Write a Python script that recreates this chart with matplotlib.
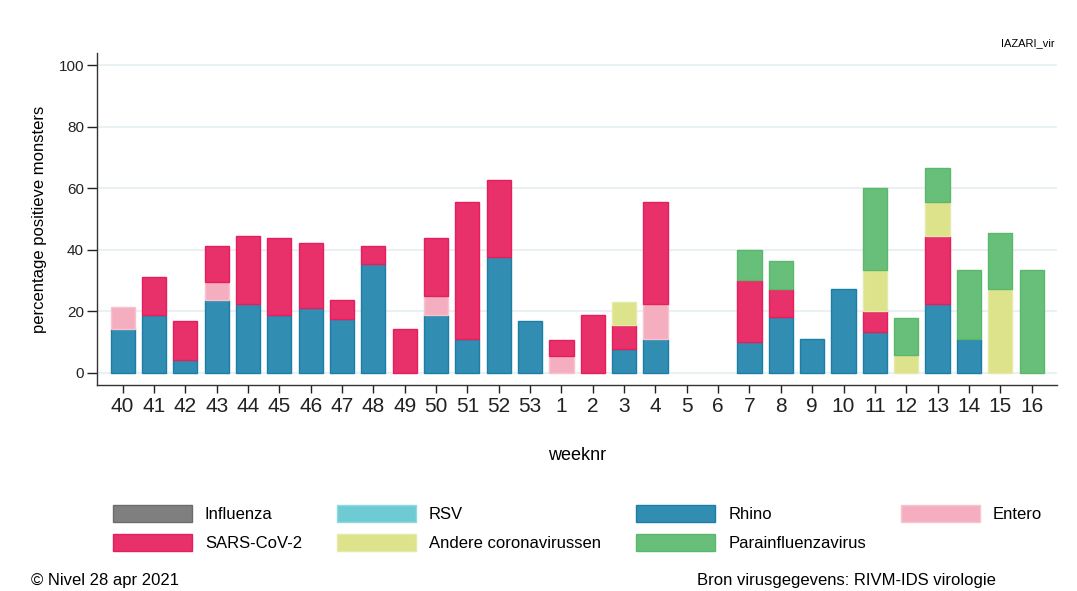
import numpy as np
import matplotlib.pyplot as plt
from matplotlib.patches import Patch

plt.rcParams['font.family'] = ['Liberation Sans', 'DejaVu Sans']

# weeks (season 2020/2021) and percentage positive samples per virus
weeks = [40, 41, 42, 43, 44, 45, 46, 47, 48, 49, 50, 51, 52, 53,
         1, 2, 3, 4, 5, 6, 7, 8, 9, 10, 11, 12, 13, 14, 15, 16]
influenza = [0] * 30
rsv = [0] * 30
rhino = [14.3, 18.75, 4.2, 23.5, 22.2, 18.75, 21.05, 17.6, 35.3, 0, 18.75, 11.1, 37.5, 16.7,
         0, 0, 7.7, 11.1, 0, 0, 10, 18.2, 11.1, 27.3, 13.3, 0, 22.2, 11.1, 0, 0]
entero = [7.1, 0, 0, 5.9, 0, 0, 0, 0, 0, 0, 6.25, 0, 0, 0,
          5.3, 0, 0, 11.1, 0, 0, 0, 0, 0, 0, 0, 0, 0, 0, 0, 0]
sars = [0, 12.5, 12.5, 11.8, 22.2, 25, 21.05, 5.9, 5.9, 14.3, 18.75, 44.4, 25, 0,
        5.3, 18.75, 7.7, 33.3, 0, 0, 20, 9.1, 0, 0, 6.7, 0, 22.2, 0, 0, 0]
andere = [0] * 14 + [0, 0, 7.7, 0, 0, 0, 0, 0, 0, 0, 13.3, 5.9, 11.1, 0, 27.3, 0]
para = [0] * 14 + [0, 0, 0, 0, 0, 0, 10, 9.1, 0, 0, 26.7, 11.8, 11.1, 22.2, 18.2, 33.3]

series = [
    ('Influenza', influenza, '#7f7f7f', '#6b6b6b'),
    ('RSV', rsv, '#6fcbd3', '#92d9df'),
    ('Rhino', rhino, '#318db1', '#1c7ea6'),
    ('Entero', entero, '#f4aec0', '#f7c3d0'),
    ('SARS-CoV-2', sars, '#e8316a', '#e51f5e'),
    ('Andere coronavirussen', andere, '#dce38a', '#e5eaa8'),
    ('Parainfluenzavirus', para, '#68bf79', '#5ab86c'),
]

fig = plt.figure(figsize=(10.77, 5.91), dpi=100)
ax = fig.add_axes([0.0903, 0.3486, 0.8908, 0.5617])

x = np.arange(len(weeks))
bottom = np.zeros(len(weeks))
handles = {}
for name, vals, col, edge in series:
    vals = np.array(vals, dtype=float)
    nz = vals > 0
    if nz.any():
        ax.bar(x[nz], vals[nz], 0.77, bottom=bottom[nz], color=col, edgecolor=edge,
               linewidth=1, zorder=3)
    bottom += vals
    handles[name] = Patch(facecolor=col, edgecolor=edge, linewidth=1)

ax.set_xlim(-0.81, 29.8)
ax.set_ylim(-4.0, 103.9)
ax.set_yticks([0, 20, 40, 60, 80, 100])
ax.yaxis.grid(True, color='#e9f1f4', linewidth=1.5, zorder=0)
ax.set_xticks(x)
ax.set_xticklabels([str(w) for w in weeks], fontsize=15)
ax.tick_params(axis='x', length=6, width=1, pad=3, colors='#222222')
ax.tick_params(axis='y', length=7.5, width=1, pad=2, labelsize=11, colors='#222222')
for s in ['top', 'right']:
    ax.spines[s].set_visible(False)
for s in ['left', 'bottom']:
    ax.spines[s].set_color('#333333')
    ax.spines[s].set_linewidth(1)

ax.set_ylabel('percentage positieve monsters', fontsize=12, labelpad=8)
ax.set_xlabel('weeknr', fontsize=13, labelpad=22)

fig.text(1055 / 1077, 1 - 43 / 591, 'IAZARI_vir', fontsize=8, ha='right', va='center')

order = ['Influenza', 'SARS-CoV-2', 'RSV', 'Andere coronavirussen',
         'Rhino', 'Parainfluenzavirus', 'Entero']
fig.legend([handles[n] for n in order], order, loc='upper left',
           bbox_to_anchor=(113 / 1077, 1 - 505 / 591), ncol=4, frameon=False,
           fontsize=12, borderpad=0, borderaxespad=0, handlelength=4.74,
           handleheight=1.2, handletextpad=0.78, columnspacing=2.1, labelspacing=0.72)

fig.text(31 / 1077, 1 - 580 / 591, '\u00a9 Nivel 28 apr 2021', fontsize=12, va='center')
fig.text(697 / 1077, 1 - 580 / 591, 'Bron virusgegevens: RIVM-IDS virologie', fontsize=12, va='center')

fig.savefig('out.png', dpi=100)
